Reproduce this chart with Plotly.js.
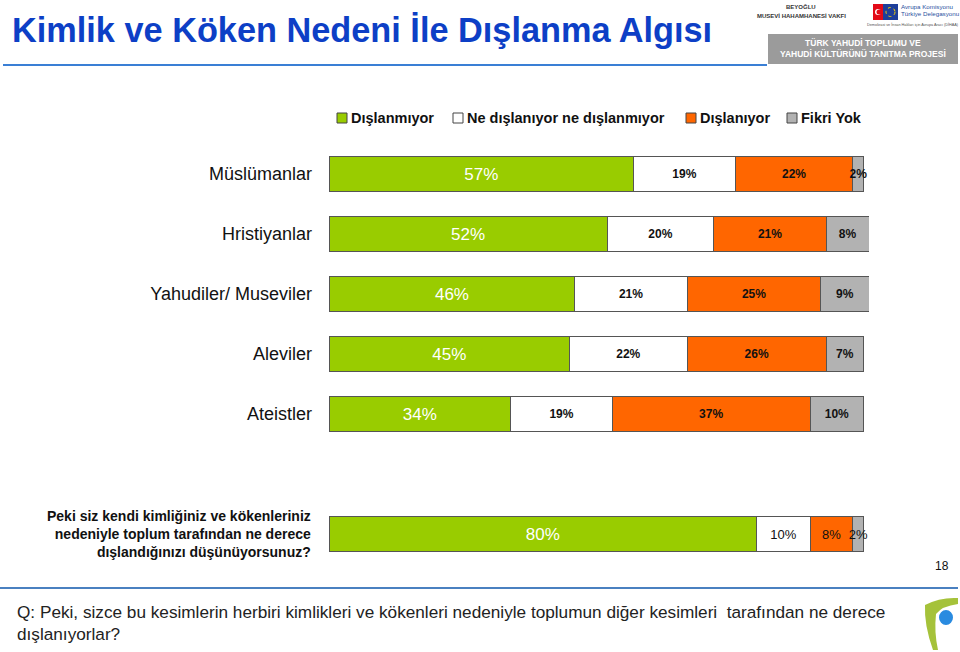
<!DOCTYPE html>
<html>
<head>
<meta charset="utf-8">
<script src="https://cdn.plot.ly/plotly-3.0.1.min.js"></script>
<style>html,body{margin:0;padding:0;background:#fff;}#chart{width:960px;height:652px;}</style>
</head>
<body>
<div id="chart"></div>
<script>
// ---- data ----
const categories = ['Müslümanlar', 'Hristiyanlar', 'Yahudiler/ Museviler', 'Aleviler', 'Ateistler'];
const questionLabel = 'Peki siz kendi kimliğiniz ve kökenleriniz<br>nedeniyle toplum tarafından ne derece<br>dışlandığınızı düşünüyorsunuz?';
const seriesNames = ['Dışlanmıyor', 'Ne dışlanıyor ne dışlanmıyor', 'Dışlanıyor', 'Fikri Yok'];
const dislanmiyor = [57, 52, 46, 45, 34, 80];
const neDislaniyorNeDislanmiyor = [19, 20, 21, 22, 19, 10];
const dislaniyor = [22, 21, 25, 26, 37, 8];
const fikriYok = [2, 8, 9, 7, 10, 2];
const titleText = 'Kimlik ve Köken Nedeni İle Dışlanma Algısı';
const footText = 'Q: Peki, sizce bu kesimlerin herbiri kimlikleri ve kökenleri nedeniyle toplumun diğer kesimleri  tarafından ne derece<br>dışlanıyorlar?';
const pageNo = '18';

// ---- layout helpers ----
const FONT = 'Liberation Sans, Arial, sans-serif';
const L = 329, R = 91, T = 144, B = 88, W = 960, H = 652;
const PW = W - L - R, PH = H - T - B;
const px = v => (v - L) / PW;
const py = v => (H - B - v) / PH;

const rowPos = categories.map((c, i) => i).concat([categories.length + 1]);
const nRows = rowPos.length;
const colors = ['#99CC00', '#FFFFFF', '#FF6600', '#B2B2B2'];
const seriesVals = [dislanmiyor, neDislaniyorNeDislanmiyor, dislaniyor, fikriYok];

const traces = seriesVals.map((vals, s) => {
  const isGreen = s === 0;
  return {
    type: 'bar',
    orientation: 'h',
    name: seriesNames[s],
    x: vals,
    y: rowPos,
    width: 0.57,
    marker: {color: colors[s], line: {color: '#555555', width: 1}},
    text: vals.map(v => v + '%'),
    textposition: 'inside',
    insidetextanchor: 'middle',
    textangle: 0,
    constraintext: 'none',
    cliponaxis: false,
    showlegend: false,
    textfont: isGreen
      ? {family: FONT, size: 17, color: '#FFFFFF'}
      : {family: FONT, size: vals.map((v, i) => i === nRows - 1 ? 13 : 12), color: '#111111',
         weight: vals.map((v, i) => i === nRows - 1 ? 400 : 700)},
    hoverinfo: 'skip'
  };
});

// manual legend (square + label) positions in pixels
const legendSquareX = [337, 453, 686, 787];
const legendY = 118;

const shapes = [
  {type: 'line', xref: 'paper', yref: 'paper', x0: px(3), x1: px(767), y0: py(65), y1: py(65),
   line: {color: '#3A7FD5', width: 2}},
  {type: 'rect', xref: 'paper', yref: 'paper', x0: px(768), x1: px(958), y0: py(34), y1: py(64),
   fillcolor: '#9B9B9B', line: {width: 0}},
  {type: 'rect', xref: 'paper', yref: 'paper', x0: px(873), x1: px(883), y0: py(4), y1: py(20),
   fillcolor: '#E30A17', line: {width: 0}},
  {type: 'rect', xref: 'paper', yref: 'paper', x0: px(883), x1: px(898), y0: py(4), y1: py(20),
   fillcolor: '#1E3F9A', line: {width: 0}},
  {type: 'circle', xref: 'paper', yref: 'paper', x0: px(875), x1: px(881), y0: py(9), y1: py(15),
   fillcolor: '#FFFFFF', line: {width: 0}},
  {type: 'circle', xref: 'paper', yref: 'paper', x0: px(876.5), x1: px(882), y0: py(9.5), y1: py(14.5),
   fillcolor: '#E30A17', line: {width: 0}},
  {type: 'circle', xref: 'paper', yref: 'paper', x0: px(886), x1: px(895), y0: py(7.5), y1: py(16.5),
   fillcolor: 'rgba(0,0,0,0)', line: {color: '#FFD700', width: 1, dash: 'dot'}},
  {type: 'line', xref: 'paper', yref: 'paper', x0: px(0), x1: px(958), y0: py(588), y1: py(588),
   line: {color: '#4A80C0', width: 2}},
  {type: 'path', xref: 'paper', yref: 'paper',
   path: 'M ' + px(925) + ',' + py(605) + ' Q ' + px(940) + ',' + py(597) + ' ' + px(958) + ',' + py(598) +
         ' L ' + px(958) + ',' + py(604) + ' Q ' + px(942) + ',' + py(606) + ' ' + px(936) + ',' + py(614) +
         ' Q ' + px(934) + ',' + py(632) + ' ' + px(938) + ',' + py(650) +
         ' L ' + px(933) + ',' + py(650) + ' Q ' + px(924) + ',' + py(625) + ' ' + px(925) + ',' + py(605) + ' Z',
   fillcolor: '#A5C23A', line: {width: 0}},
  {type: 'circle', xref: 'paper', yref: 'paper', x0: px(939), x1: px(953), y0: py(610), y1: py(625),
   fillcolor: '#2A8BE0', line: {width: 0}}
];

const annotations = [
  {xref: 'paper', yref: 'paper', x: px(10), y: py(30), xanchor: 'left', yanchor: 'middle', showarrow: false,
   text: '<b>' + titleText + '</b>', font: {family: FONT, size: 34.3, color: '#0D3FC6'}},
  {xref: 'paper', yref: 'paper', x: px(801), y: py(6), xanchor: 'center', yanchor: 'middle', showarrow: false,
   text: '<b>BEYOĞLU</b>', font: {family: FONT, size: 6, color: '#333'}},
  {xref: 'paper', yref: 'paper', x: px(801), y: py(16), xanchor: 'center', yanchor: 'middle', showarrow: false,
   text: '<b>MUSEVİ HAHAMHANESİ VAKFI</b>', font: {family: FONT, size: 6, color: '#333'}},
  {xref: 'paper', yref: 'paper', x: px(899), y: py(6.5), xanchor: 'left', yanchor: 'middle', showarrow: false,
   text: 'Avrupa Komisyonu', font: {family: FONT, size: 6.2, color: '#2A4FA0'}},
  {xref: 'paper', yref: 'paper', x: px(899), y: py(13.5), xanchor: 'left', yanchor: 'middle', showarrow: false,
   text: 'Türkiye Delegasyonu', font: {family: FONT, size: 6.2, color: '#2A4FA0'}},
  {xref: 'paper', yref: 'paper', x: px(913), y: py(25), xanchor: 'center', yanchor: 'middle', showarrow: false,
   text: 'Demokrasi ve İnsan Hakları için Avrupa Aracı (DİHAA)', font: {family: FONT, size: 3.8, color: '#555'}},
  {xref: 'paper', yref: 'paper', x: px(863), y: py(49), xanchor: 'center', yanchor: 'middle', showarrow: false,
   text: '<b>TÜRK YAHUDİ TOPLUMU VE<br>YAHUDİ KÜLTÜRÜNÜ TANITMA PROJESİ</b>', font: {family: FONT, size: 8.5, color: '#FFFFFF'}},
  {xref: 'paper', yref: 'y', x: px(313), y: rowPos[nRows - 1], xanchor: 'right', yanchor: 'middle', showarrow: false,
   align: 'right', text: '<b>' + questionLabel + '</b>', font: {family: FONT, size: 14, color: '#111'}},
  {xref: 'paper', yref: 'paper', x: px(942), y: py(566), xanchor: 'center', yanchor: 'middle', showarrow: false,
   text: pageNo, font: {family: FONT, size: 12, color: '#111'}},
  {xref: 'paper', yref: 'paper', x: px(15), y: py(600), xanchor: 'left', yanchor: 'top', showarrow: false,
   align: 'left', text: footText, font: {family: FONT, size: 17.2, color: '#222'}}
];

seriesNames.forEach((name, s) => {
  const x0 = legendSquareX[s];
  shapes.push({type: 'rect', xref: 'paper', yref: 'paper', x0: px(x0), x1: px(x0 + 10),
    y0: py(legendY - 5), y1: py(legendY + 5), fillcolor: colors[s], line: {color: '#444', width: 1}});
  annotations.push({xref: 'paper', yref: 'paper', x: px(x0 + 12), y: py(legendY), xanchor: 'left', yanchor: 'middle',
    showarrow: false, text: '<b>' + name + '</b>', font: {family: FONT, size: 14.5, color: '#111'}});
});

const layout = {
  width: W, height: H,
  margin: {l: L, r: R, t: T, b: B, pad: 0},
  paper_bgcolor: '#FFFFFF', plot_bgcolor: '#FFFFFF',
  barmode: 'stack',
  showlegend: false,
  xaxis: {range: [0, 101], visible: false, fixedrange: true},
  yaxis: {range: [nRows + 0.5, -0.5], tickmode: 'array',
          tickvals: rowPos.slice(0, categories.length), ticktext: categories,
          showgrid: false, zeroline: false, showline: false, ticks: '',
          ticklabelstandoff: 16,
          tickfont: {family: FONT, size: 18, color: '#111'}, fixedrange: true},
  shapes: shapes,
  annotations: annotations,
  font: {family: FONT}
};

Plotly.newPlot('chart', traces, layout, {displayModeBar: false, staticPlot: true});
</script>
</body>
</html>
